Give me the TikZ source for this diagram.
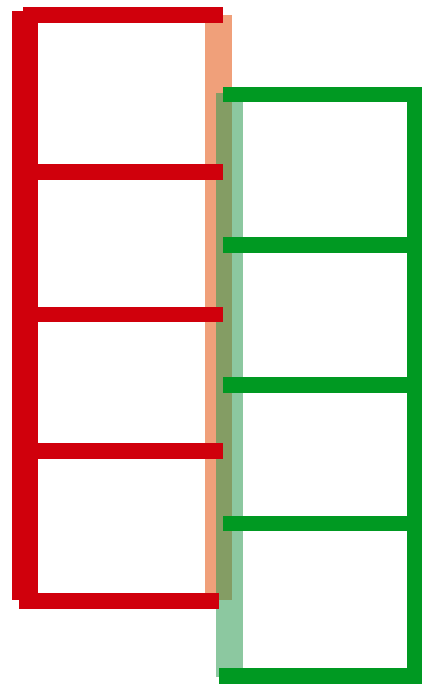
\documentclass[tikz,border=0pt]{standalone}
\definecolor{bred}{RGB}{208,0,12}
\definecolor{bgreen}{RGB}{0,153,34}
\definecolor{salmon}{RGB}{240,160,122}
\definecolor{palegreen}{RGB}{45,155,82}
\begin{document}
\begin{tikzpicture}[x=1pt,y=-1pt,
  redbar/.style={fill=bred},
  greenbar/.style={fill=bgreen},
  salmonbar/.style={fill=salmon},
  palebar/.style={fill=palegreen,fill opacity=0.55}]
\useasboundingbox (0,0) rectangle (425,685);
% translucent vertical bands
\path[salmonbar] (205,15) rectangle (232,600);
\path[palebar] (216,93) rectangle (243,677);
% red ladder
\path[redbar] (12,11) rectangle (38,600);
\path[redbar] (23,7) rectangle (223,23);
\path[redbar] (30,164) rectangle (223,180);
\path[redbar] (30,307) rectangle (223,322);
\path[redbar] (30,443) rectangle (223,459);
\path[redbar] (19,593) rectangle (219,609);
% green ladder
\path[greenbar] (407,88) rectangle (422,684);
\path[greenbar] (223,87) rectangle (422,102);
\path[greenbar] (223,237) rectangle (407,253);
\path[greenbar] (223,377) rectangle (407,393);
\path[greenbar] (223,516) rectangle (407,531);
\path[greenbar] (219,668) rectangle (422,684);
\end{tikzpicture}
\end{document}
